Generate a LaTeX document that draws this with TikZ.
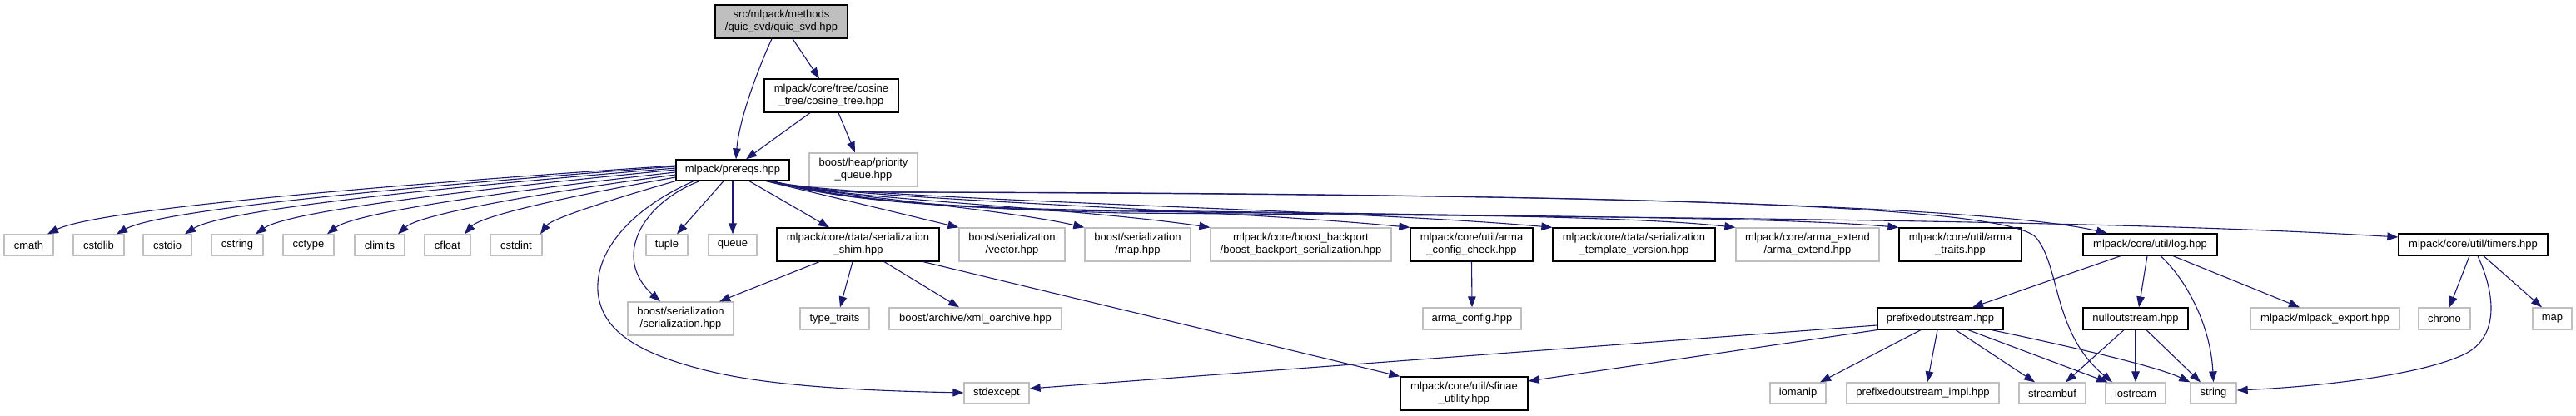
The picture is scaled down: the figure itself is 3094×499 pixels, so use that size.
\documentclass[tikz,border=0pt]{standalone}
\usepackage{fontspec}
\setmainfont{Liberation Sans}
\usetikzlibrary{arrows.meta,calc}
\definecolor{mblue}{HTML}{191970}
\definecolor{gnode}{HTML}{BFBFBF}
\begin{document}
\begin{tikzpicture}[x=1pt,y=-1pt,
  box/.style={rectangle, inner sep=0pt, align=center, font=\fontsize{13}{15}\selectfont, fill=white, line width=1.3pt},
  doc/.style={box, draw=black},
  ext/.style={box, draw=gnode},
  rootbox/.style={box, draw=black, fill=gnode},
  dep/.style={draw=mblue, line width=1.1pt, -{Triangle[length=13pt,width=9.5pt]}}]
\fill[white] (0,0) rectangle (3094,499);
\useasboundingbox (0,0) rectangle (3094,499);
% top
\node[rootbox, minimum width=159pt, minimum height=40pt] (root) at (938.5,26) {src/mlpack/methods\\/quic\_svd/quic\_svd.hpp};
\node[doc, minimum width=161pt, minimum height=40pt] (cosine) at (998.5,115) {mlpack/core/tree/cosine\\\_tree/cosine\_tree.hpp};
\node[doc, minimum width=136pt, minimum height=25pt] (prereqs) at (880,204.5) {mlpack/prereqs.hpp};
\node[ext, minimum width=130pt, minimum height=40pt] (pq) at (1037,204) {boost/heap/priority\\\_queue.hpp};
% row 2
\node[ext, minimum width=59pt, minimum height=25pt] (cmath) at (34.5,294.5) {cmath};
\node[ext, minimum width=61pt, minimum height=25pt] (cstdlib) at (118.5,294.5) {cstdlib};
\node[ext, minimum width=58pt, minimum height=25pt] (cstdio) at (201,294.5) {cstdio};
\node[ext, minimum width=62pt, minimum height=25pt] (cstring) at (285,294.5) {cstring};
\node[ext, minimum width=61pt, minimum height=25pt] (cctype) at (370.5,294.5) {cctype};
\node[ext, minimum width=60pt, minimum height=25pt] (climits) at (456,294.5) {climits};
\node[ext, minimum width=55pt, minimum height=25pt] (cfloat) at (537.5,294.5) {cfloat};
\node[ext, minimum width=62pt, minimum height=25pt] (cstdint) at (620,294.5) {cstdint};
\node[ext, minimum width=50pt, minimum height=25pt] (tuple) at (801,294.5) {tuple};
\node[ext, minimum width=58pt, minimum height=25pt] (queue) at (880,294.5) {queue};
\node[doc, minimum width=195pt, minimum height=40pt] (shim) at (1030.5,294) {mlpack/core/data/serialization\\\_shim.hpp};
\node[ext, minimum width=127pt, minimum height=40pt] (vector) at (1215.5,294) {boost/serialization\\/vector.hpp};
\node[ext, minimum width=127pt, minimum height=40pt] (maphpp) at (1366.5,294) {boost/serialization\\/map.hpp};
\node[ext, minimum width=217pt, minimum height=40pt] (backport) at (1562.5,294) {mlpack/core/boost\_backport\\/boost\_backport\_serialization.hpp};
\node[doc, minimum width=147pt, minimum height=40pt] (acc) at (1767.5,294) {mlpack/core/util/arma\\\_config\_check.hpp};
\node[doc, minimum width=195pt, minimum height=40pt] (stv) at (1962.5,294) {mlpack/core/data/serialization\\\_template\_version.hpp};
\node[ext, minimum width=172pt, minimum height=40pt] (extend) at (2171,294) {mlpack/core/arma\_extend\\/arma\_extend.hpp};
\node[doc, minimum width=147pt, minimum height=40pt] (traits) at (2354.5,294) {mlpack/core/util/arma\\\_traits.hpp};
\node[doc, minimum width=161pt, minimum height=26pt] (log) at (2582.5,294) {mlpack/core/util/log.hpp};
\node[doc, minimum width=179pt, minimum height=26pt] (timers) at (2970.5,294) {mlpack/core/util/timers.hpp};
% row 3
\node[ext, minimum width=127pt, minimum height=40pt] (sers) at (817.5,383) {boost/serialization\\/serialization.hpp};
\node[ext, minimum width=83pt, minimum height=26pt] (typetraits) at (1002.5,383) {type\_traits};
\node[ext, minimum width=207pt, minimum height=26pt] (xml) at (1171.5,383) {boost/archive/xml\_oarchive.hpp};
\node[ext, minimum width=118pt, minimum height=26pt] (armaconfig) at (1768,383) {arma\_config.hpp};
\node[doc, minimum width=151pt, minimum height=26pt] (prefixed) at (2330.5,383) {prefixedoutstream.hpp};
\node[doc, minimum width=126pt, minimum height=26pt] (null) at (2565,383) {nulloutstream.hpp};
\node[ext, minimum width=179pt, minimum height=26pt] (export) at (2792.5,383) {mlpack/mlpack\_export.hpp};
\node[ext, minimum width=62pt, minimum height=26pt] (chrono) at (2936,383) {chrono};
\node[ext, minimum width=47pt, minimum height=26pt] (map) at (3065.5,383) {map};
% row 4
\node[ext, minimum width=78pt, minimum height=25pt] (stdexcept) at (1197,472.5) {stdexcept};
\node[doc, minimum width=153pt, minimum height=40pt] (sfinae) at (1758.5,473) {mlpack/core/util/sfinae\\\_utility.hpp};
\node[ext, minimum width=67pt, minimum height=25pt] (iomanip) at (2159.5,472.5) {iomanip};
\node[ext, minimum width=183pt, minimum height=25pt] (impl) at (2309.5,472.5) {prefixedoutstream\_impl.hpp};
\node[ext, minimum width=80pt, minimum height=25pt] (streambuf) at (2465,472.5) {streambuf};
\node[ext, minimum width=72pt, minimum height=25pt] (iostream) at (2565,472.5) {iostream};
\node[ext, minimum width=55pt, minimum height=25pt] (string) at (2658.5,472.5) {string};

% edges from root and cosine tree
\draw[dep] ($(root.south)+(-11.5,0)$) .. controls (905,95) and (887,150) .. ($(prereqs.north)+(4,0)$);
\draw[dep] ($(root.south)+(13.5,0)$) -- ($(cosine.north)+(-14.5,0)$);
\draw[dep] ($(cosine.south)+(-25.5,0)$) -- ($(prereqs.north)+(16,0)$);
\draw[dep] ($(cosine.south)+(8.5,0)$) -- ($(pq.north)+(-10,0)$);

% prereqs to the left
\draw[dep] ($(prereqs.west)+(0,-5.5)$) .. controls (500,220) and (120,250) .. ($(cmath.north)+(22.5,0)$);
\draw[dep] ($(prereqs.west)+(0,-4.5)$) .. controls (536,221) and (196,250) .. ($(cstdlib.north)+(21.5,0)$);
\draw[dep] ($(prereqs.west)+(0,-2.5)$) .. controls (570,222) and (271,250) .. ($(cstdio.north)+(21,0)$);
\draw[dep] ($(prereqs.west)+(0,-0.5)$) .. controls (605,224) and (349,252) .. ($(cstring.north)+(22,0)$);
\draw[dep] ($(prereqs.west)+(0,2.5)$) .. controls (640,226) and (428,254) .. ($(cctype.north)+(22.5,0)$);
\draw[dep] ($(prereqs.west)+(0,5.5)$) .. controls (675,228) and (506,256) .. ($(climits.north)+(22,0)$);
\draw[dep] ($(prereqs.west)+(0,8.5)$) .. controls (708,231) and (579,258) .. ($(cfloat.north)+(20.5,0)$);
\draw[dep] ($(prereqs.south west)+(3,-1)$) .. controls (747,236) and (663,262) .. ($(cstdint.north)+(29,0)$);

% prereqs downwards
\draw[dep] ($(prereqs.south)+(-11,0)$) -- ($(tuple.north)+(12,0)$);
\draw[dep] (prereqs.south) -- (queue.north);
\draw[dep] ($(prereqs.south)+(20,0)$) -- ($(shim.north)+(-34.5,0)$);
\draw[dep] ($(prereqs.south)+(-40,0)$) .. controls (770,245) and (735,310) .. ($(sers.north)+(-24.5,0)$);
\draw[dep] ($(prereqs.south)+(-47,0)$) .. controls (760,250) and (715,300) .. (718,350) .. controls (722,395) and (760,425) .. (860,448) .. controls (940,466) and (1060,470) .. ($(stdexcept.west)+(0,-0.5)$);

% prereqs to the right
\draw[dep] ($(prereqs.south)+(40,0)$) -- (vector.north west);
\draw[dep] ($(prereqs.south)+(43,0)$) .. controls (1000,236) and (1200,250) .. (maphpp.north west);
\draw[dep] ($(prereqs.south)+(44,0)$) .. controls (1010,240) and (1280,248) .. (backport.north west);
\draw[dep] ($(prereqs.south)+(45,0)$) .. controls (1010,240) and (1450,250) .. (acc.north west);
\draw[dep] ($(prereqs.south)+(46,0)$) .. controls (1010,240) and (1600,250) .. (stv.north west);
\draw[dep] ($(prereqs.south)+(47,0)$) .. controls (990,236) and (1100,250) .. (1350,253) .. controls (1800,258) and (1980,262) .. (extend.north west);
\draw[dep] ($(prereqs.south)+(47,0)$) .. controls (990,236) and (1100,251) .. (1350,254) .. controls (1900,260) and (2150,262) .. (traits.north west);
\draw[dep] ($(prereqs.south)+(48,0)$) .. controls (990,234) and (1100,250) .. (1350,256) .. controls (2200,262) and (2600,268) .. ($(timers.west)+(0,-9)$);
\draw[dep] ($(prereqs.south)+(48,0)$) .. controls (970,230) and (1010,231) .. (1100,231) .. controls (1800,232) and (2380,245) .. ($(log.north)+(-51.5,0)$);
\draw[dep] ($(prereqs.south)+(48,0)$) .. controls (970,230) and (1010,231) .. (1100,231) .. controls (1800,234) and (2400,240) .. (2445,285) .. controls (2475,320) and (2465,400) .. ($(iostream.north)+(-28,0)$);

% shim
\draw[dep] ($(shim.south)+(-46.5,0)$) -- ($(sers.north)+(46.5,0)$);
\draw[dep] ($(shim.south)+(-6.5,0)$) -- ($(typetraits.north)+(6.5,0)$);
\draw[dep] ($(shim.south)+(31.5,0)$) -- ($(xml.north)+(-19.5,0)$);
\draw[dep] ($(shim.south)+(78.5,0)$) -- (sfinae.north west);
\draw[dep] (acc.south) -- (armaconfig.north);

% log
\draw[dep] ($(log.south)+(-35.5,0)$) -- ($(prefixed.north)+(38.5,0)$);
\draw[dep] ($(log.south)+(-3.5,0)$) -- ($(null.north)+(4,0)$);
\draw[dep] ($(log.south)+(12.5,0)$) .. controls (2625,335) and (2655,390) .. (string.north);
\draw[dep] ($(log.south)+(27.5,0)$) -- ($(export.north)+(-30.5,0)$);

% prefixedoutstream
\draw[dep] ($(prefixed.west)+(0,8)$) -- ($(stdexcept.east)+(0,-5.5)$);
\draw[dep] (prefixed.south west) -- ($(sfinae.east)+(0,-15)$);
\draw[dep] ($(prefixed.south)+(-23.5,0)$) -- ($(iomanip.north)+(26.5,0)$);
\draw[dep] ($(prefixed.south)+(-3.5,0)$) -- ($(impl.north)+(5.5,0)$);
\draw[dep] ($(prefixed.south)+(18.5,0)$) -- ($(streambuf.north)+(-21,0)$);
\draw[dep] ($(prefixed.south)+(33.5,0)$) -- ($(iostream.north west)+(3,0)$);
\draw[dep] ($(prefixed.south)+(61.5,0)$) .. controls (2480,415) and (2590,440) .. (string.north west);

% nulloutstream
\draw[dep] ($(null.south)+(-14,0)$) -- ($(streambuf.north)+(16,0)$);
\draw[dep] (null.south) -- (iostream.north);
\draw[dep] ($(null.south)+(13,0)$) -- ($(string.north)+(-15.5,0)$);

% timers
\draw[dep] ($(timers.south)+(-4.5,0)$) -- ($(chrono.north)+(6,0)$);
\draw[dep] ($(timers.south)+(5.5,0)$) .. controls (3000,360) and (3000,410) .. (2955,428) .. controls (2900,452) and (2780,465) .. ($(string.east)+(0,-3.5)$);
\draw[dep] ($(timers.south)+(12.5,0)$) -- ($(map.north)+(-12.5,0)$);
\end{tikzpicture}
\end{document}
